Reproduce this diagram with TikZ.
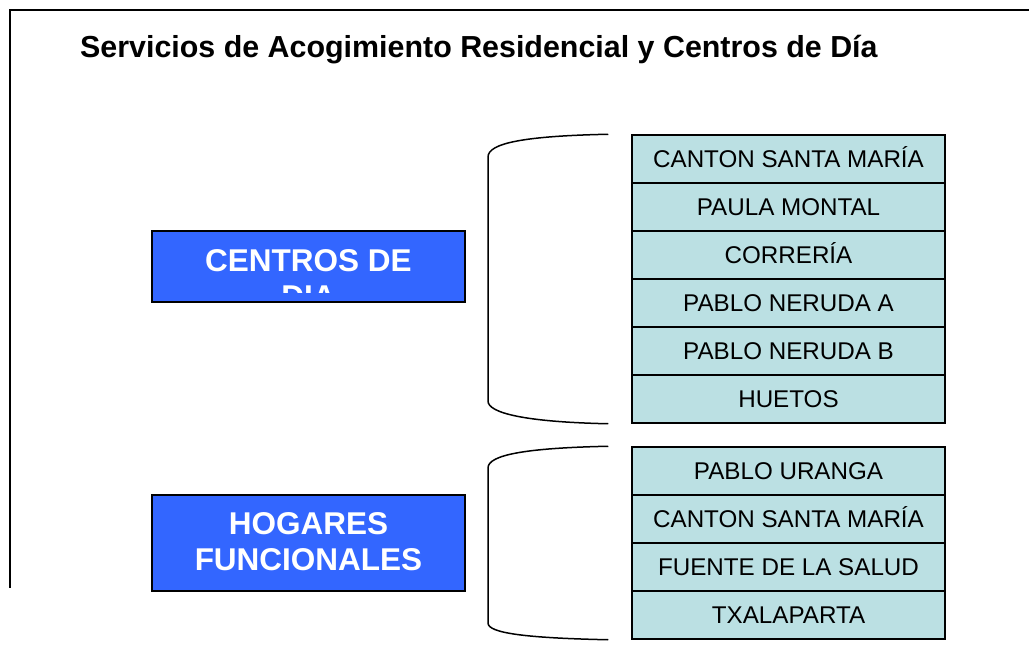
\documentclass[tikz,border=0pt]{standalone}
\usepackage{fontspec}
\setmainfont{Liberation Sans}
\definecolor{catblue}{HTML}{3366FF}
\definecolor{itemcyan}{HTML}{BBE0E3}
\begin{document}
\begin{tikzpicture}[x=1pt,y=-1pt,
  catbox/.style={draw=black, line width=1.5pt, fill=catblue, minimum width=313pt, inner sep=0pt},
  cattext/.style={text=white, align=center, font=\bfseries\fontsize{31.5}{36}\selectfont, inner sep=0pt},
  listbox/.style={draw=black, line width=1.5pt, fill=itemcyan, minimum width=313pt, minimum height=48pt, inner sep=0pt, text height=17.2pt, text depth=0pt, font=\fontsize{24.2}{28}\selectfont},
  bracket/.style={draw=black, line width=1.5pt}
]
\useasboundingbox (0,0) rectangle (1029,653);
% frame
\coordinate (fr) at (1029,10);
\coordinate (ftl) at (10,10);
\coordinate (fbl) at (10,588);
\draw[line width=2pt] (fr) -- (ftl) -- (fbl);
% title
\node[anchor=base west, inner sep=0pt, font=\bfseries\fontsize{30.4}{36}\selectfont] (title) at (80,57) {Servicios de Acogimiento Residencial y Centros de Día};
% category boxes
\node[catbox, minimum height=71pt] (cd) at (308.5,266.5) {};
\begin{scope}
\clip (cd.north west) rectangle ([yshift=10pt]cd.south east);
\node[cattext] (cdt) at (308.5,278.75) {CENTROS DE\\DIA};
\end{scope}
\node[catbox, minimum height=96pt] (hf) at (308.5,543) {};
\node[cattext] (hft) at (308.5,542) {HOGARES\\FUNCIONALES};
% list 1
\node[listbox] (a1) at (788.5,159) {CANTON SANTA MARÍA};
\node[listbox] (a2) at (788.5,207) {PAULA MONTAL};
\node[listbox] (a3) at (788.5,255) {CORRERÍA};
\node[listbox] (a4) at (788.5,303) {PABLO NERUDA A};
\node[listbox] (a5) at (788.5,351) {PABLO NERUDA B};
\node[listbox] (a6) at (788.5,399) {HUETOS};
% list 2
\node[listbox] (b1) at (788.5,471) {PABLO URANGA};
\node[listbox] (b2) at (788.5,519) {CANTON SANTA MARÍA};
\node[listbox] (b3) at (788.5,567) {FUENTE DE LA SALUD};
\node[listbox] (b4) at (788.5,615) {TXALAPARTA};
% brackets
\coordinate (p1t) at ([xshift=-23pt]a1.north west);
\coordinate (p1b) at ([xshift=-23pt]a6.south west);
\coordinate (p2t) at ([xshift=-23pt]b1.north west);
\coordinate (p2b) at ([xshift=-23pt]b4.south west);
\draw[bracket] (p1t) .. controls (525,136) and (488,143) .. (488,157) -- (488,401)
  .. controls (488,413) and (525,422) .. (p1b);
\draw[bracket] (p2t) .. controls (525,448) and (488,455) .. (488,468) -- (488,623)
  .. controls (488,633) and (525,638) .. (p2b);
\end{tikzpicture}
\end{document}
